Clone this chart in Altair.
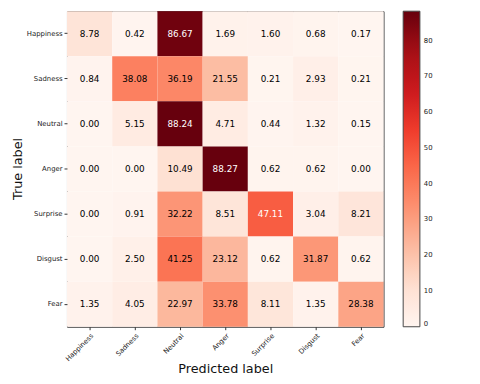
import altair as alt
import pandas as pd

labels = ["Happiness", "Sadness", "Neutral", "Anger", "Surprise", "Disgust", "Fear"]
values = [
    [8.78, 0.42, 86.67, 1.69, 1.60, 0.68, 0.17],
    [0.84, 38.08, 36.19, 21.55, 0.21, 2.93, 0.21],
    [0.00, 5.15, 88.24, 4.71, 0.44, 1.32, 0.15],
    [0.00, 0.00, 10.49, 88.27, 0.62, 0.62, 0.00],
    [0.00, 0.91, 32.22, 8.51, 47.11, 3.04, 8.21],
    [0.00, 2.50, 41.25, 23.12, 0.62, 31.87, 0.62],
    [1.35, 4.05, 22.97, 33.78, 8.11, 1.35, 28.38],
]
cbar_ticks = [0, 10, 20, 30, 40, 50, 60, 70, 80]
reds = ["#fff5f0", "#fee0d2", "#fcbba1", "#fc9272", "#fb6a4a",
        "#ef3b2c", "#cb181d", "#a50f15", "#67000d"]

rows = []
for i, t in enumerate(labels):
    for j, p in enumerate(labels):
        rows.append({"true": t, "pred": p, "v": values[i][j], "txt": f"{values[i][j]:.2f}"})
df = pd.DataFrame(rows)
vmax = max(max(r) for r in values)

base = alt.Chart(df).encode(
    x=alt.X("pred:N", sort=labels, title="Predicted label",
            axis=alt.Axis(labelAngle=-45, labelAlign="right", labelBaseline="top",
                          labelFontSize=7, tickSize=3, domain=False,
                          titleFontSize=13, titleFontWeight="normal", titlePadding=1,
                          labelColor="#222", titleColor="#111")),
    y=alt.Y("true:N", sort=labels, title="True label",
            axis=alt.Axis(labelFontSize=7, tickSize=3, domain=False,
                          titleFontSize=13, titleFontWeight="normal",
                          titleX=-43, titleY=160,
                          labelColor="#222", titleColor="#111")),
)

rect = base.mark_rect().encode(
    color=alt.Color("v:Q",
                    scale=alt.Scale(domain=[0, vmax], range=reds, interpolate="rgb"),
                    legend=alt.Legend(title=None, orient="none", legendX=342, legendY=0,
                                      direction="vertical", gradientLength=321,
                                      gradientThickness=17, values=cbar_ticks,
                                      labelFontSize=7, labelColor="#222",
                                      gradientStrokeColor="#444", gradientStrokeWidth=1,
                                      labelOffset=4))
)

text = base.mark_text(fontSize=9, font="DejaVu Sans").encode(
    text="txt:N",
    color=alt.condition(alt.datum.v > vmax / 2, alt.value("white"), alt.value("black")),
)

chart = (rect + text).properties(
    width=322, height=321,
    autosize=alt.AutoSizeParams(type="none"),
    padding={"left": 60, "top": 0, "right": 90, "bottom": 56},
).configure_view(stroke="#333", strokeWidth=1).configure_axis(
    labelFont="DejaVu Sans", titleFont="DejaVu Sans", tickColor="#333"
).configure_legend(labelFont="DejaVu Sans")

chart.save("out.html", embed_options={"renderer": "svg", "actions": False})
